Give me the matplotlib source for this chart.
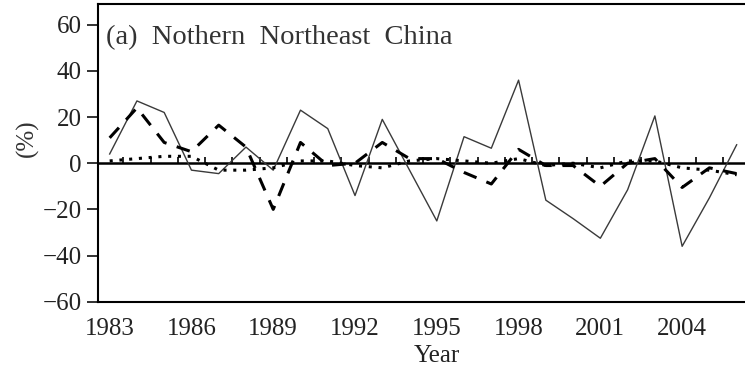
import matplotlib
matplotlib.use("Agg")
import matplotlib.pyplot as plt
import numpy as np

years = list(range(1983, 2007))

# thin solid series
solid = [4, 27, 22, -3, -4.5, 7, -3, 23, 15, -14, 19, -3, -25, 11.5,
         6.5, 36, -16, -24, -32.5, -11.5, 20.5, -36, -15, 8]
# thick dashed series
dashed = [11, 24, 9, 5, 16.5, 7, -20, 9, -1, 0, 9, 2, 2, -4,
          -9, 6, -1, -1, -10, 0, 2, -10.5, -2, -4.5]
# dotted series close to zero
dotted = [1, 2, 3, 3, -3, -3, -2, 1, 1, -1, -2, 1, 2, 1,
          0, 2, -1, 0, -2, 1, 1, -2, -3, -5]

yticks = [-60, -40, -20, 0, 20, 40, 60]
xticks = [1983, 1986, 1989, 1992, 1995, 1998, 2001, 2004]
ylim = (-60, 69)
xlim = (1982.56, 2006.5)

plt.rcParams["font.family"] = ["Liberation Serif", "DejaVu Serif"]

fig = plt.figure(figsize=(7.45, 3.76), dpi=100)
ax = fig.add_axes([0.1311, 0.1976, 0.876, 0.7918])

ax.plot(years, solid, color="#3a3a3a", lw=1.0)
ax.plot(years, dashed, color="black", lw=2.2, linestyle=(0, (4.5, 3.5)))
ax.plot(years, dotted, color="black", lw=2.2, linestyle=(0, (1, 2.2)))

ax.set_xlim(*xlim)
ax.set_ylim(*ylim)
ax.set_yticks(yticks)
ax.set_yticklabels([("\u2212%d" % -v) if v < 0 else str(v) for v in yticks])
ax.set_xticks(xticks)
ax.tick_params(axis="x", length=0, pad=12, labelsize=18, colors="#222222")
ax.tick_params(axis="y", length=8, width=1.3, direction="out", labelsize=18,
               colors="#222222")

for s in ax.spines.values():
    s.set_linewidth(1.5)

# zero line with half-year ticks pointing up
zero_pos = (0 - ylim[0]) / (ylim[1] - ylim[0])
zax = ax.secondary_xaxis(zero_pos)
zax.set_xticks(np.arange(1983.5, 2006, 1.0))
zax.tick_params(direction="in", length=4, width=1.2, labelbottom=False)
zax.spines["bottom"].set_linewidth(1.8)

ax.set_xlabel("Year", fontsize=18, color="#222222")
ax.xaxis.set_label_coords(0.52, -0.145)
ax.set_ylabel("(%)", fontsize=18, color="#333333")
ax.yaxis.set_label_coords(-0.09, 0.55)

ax.text(0.012, 0.886, "(a)  Nothern  Northeast  China", transform=ax.transAxes,
        fontsize=20.5, color="#333333", va="center", ha="left")

fig.savefig("out.png", dpi=100)
